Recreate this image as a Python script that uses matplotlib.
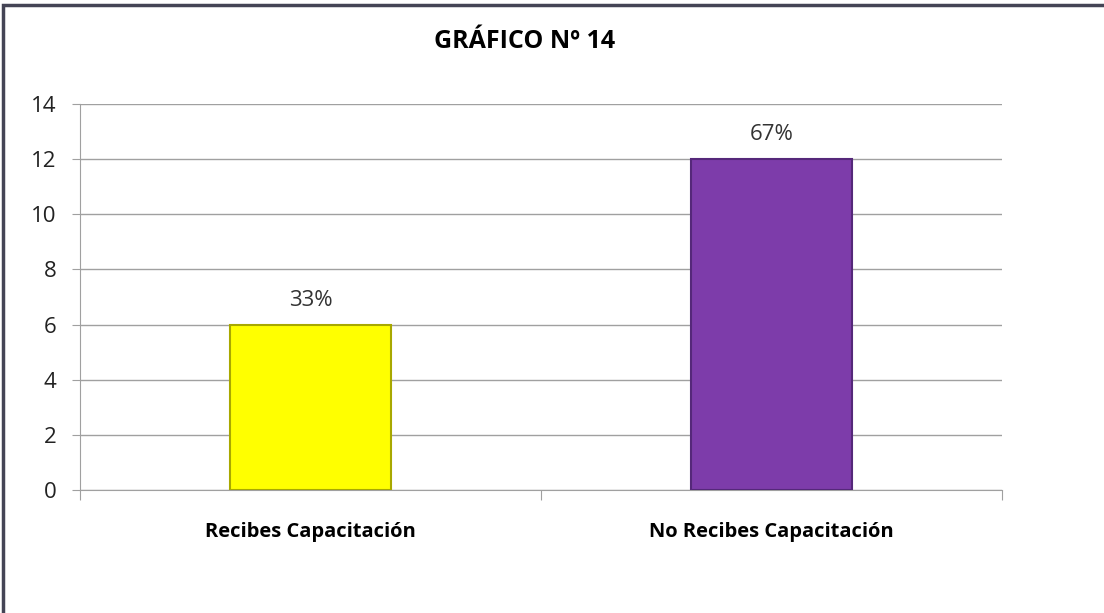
import matplotlib
matplotlib.use("Agg")
import matplotlib.pyplot as plt
from matplotlib.patches import Rectangle

categories = ["Recibes Capacitación", "No Recibes Capacitación"]
values = [6, 12]
labels = ["33%", "67%"]
colors = ["#FFFF00", "#7D3CAA"]
edges = ["#A8A800", "#55287A"]
yticks = [0, 2, 4, 6, 8, 10, 12, 14]

plt.rcParams['font.family'] = ['Open Sans', 'DejaVu Sans']

fig = plt.figure(figsize=(11.04, 6.13), dpi=100)
ax = fig.add_axes([80/1104, 1-490/613, 922/1104, 386/613])

x = list(range(len(categories)))
bars = ax.bar(x, values, width=0.35, color=colors, edgecolor=edges, linewidth=1.5, zorder=3)
for b, lab in zip(bars, labels):
    ax.text(b.get_x() + b.get_width()/2, b.get_height() + 0.68, lab,
            ha='center', va='baseline', fontsize=16, color='#333333')

ax.set_xlim(-0.5, 1.5)
ax.set_ylim(0, 14)
ax.set_yticks(yticks)
ax.set_yticklabels([str(t) for t in yticks], fontsize=16, color='#222222')
ax.yaxis.grid(True, color='#A0A0A0', linewidth=1.0, zorder=0)
ax.set_axisbelow(True)

ax.set_xticks([-0.5, 0.5, 1.5])
ax.set_xticks(x, minor=True)
ax.set_xticklabels(['', '', ''])
ax.set_xticklabels(categories, minor=True, fontsize=14.5, fontweight='bold')
ax.tick_params(axis='x', which='major', length=7, color='#A0A0A0')
ax.tick_params(axis='x', which='minor', length=0, pad=23)
ax.tick_params(axis='y', length=6, color='#A0A0A0', pad=11)

for s in ['top', 'right']:
    ax.spines[s].set_visible(False)
ax.spines['left'].set_color('#A0A0A0')
ax.spines['bottom'].set_color('#A0A0A0')

fig.text(525/1104, 1-41/613, "GRÁFICO Nº 14", ha='center', va='center',
         fontsize=18, fontweight='bold')

fig.patches.append(Rectangle((3/1104, -0.1), 1.2, 1-5/613+0.1, transform=fig.transFigure,
                             fill=False, edgecolor='#444455', linewidth=2.5))

fig.savefig("out.png", dpi=100)
